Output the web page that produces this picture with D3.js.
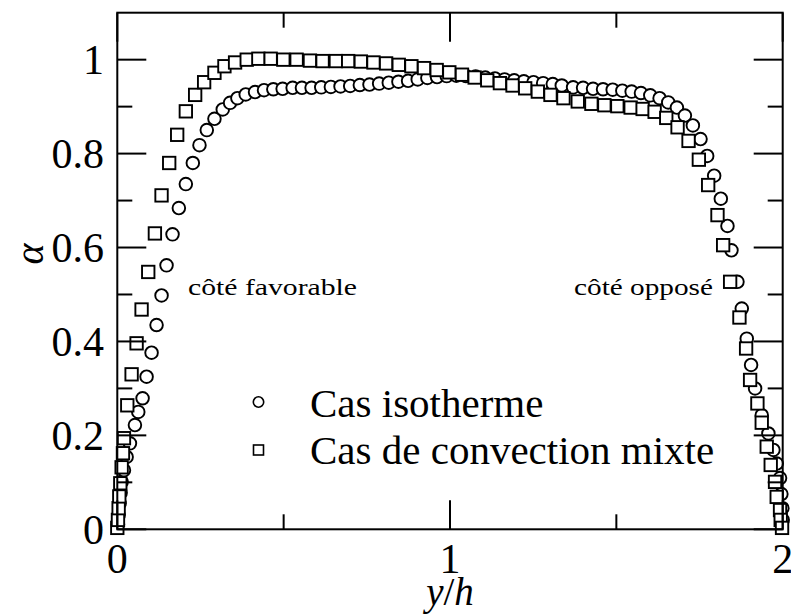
<!DOCTYPE html>
<html><head><meta charset="utf-8">
<script src="https://cdn.jsdelivr.net/npm/d3@7"></script>
<style>body{margin:0;background:#fff}svg{display:block}
text{font-family:"Liberation Serif","Times New Roman",Times,"Nimbus Roman","DejaVu Serif",serif;}</style>
</head><body>
<svg id="c" width="791" height="616"></svg>
<script>
// Cas isotherme (circles)
const isoX = [0.002,0.004,0.007,0.010,0.013,0.020,0.028,0.038,0.053,0.063,0.076,0.088,0.103,0.118,0.133,0.148,0.166,0.185,0.206,0.227,0.247,0.269,0.292,0.317,0.339,0.361,0.386,0.414,0.441,0.469,0.497,0.527,0.555,0.584,0.613,0.642,
  0.671,0.700,0.729,0.758,0.787,0.816,0.845,0.874,0.903,0.932,0.961,0.990,1.019,1.048,1.077,1.106,1.135,1.164,1.193,1.222,1.251,1.280,1.309,1.336,
  1.370,1.400,1.430,1.460,1.489,1.518,1.546,1.574,1.602,1.630,1.656,1.682,1.706,1.730,1.753,1.773,1.794,1.814,1.834,1.846,1.864,1.877,1.892,1.905,1.917,1.937,1.957,1.972,1.982,1.992,1.996,1.999,2.000];
const isoY = [0.010,0.030,0.055,0.078,0.101,0.126,0.154,0.183,0.222,0.250,0.279,0.325,0.376,0.435,0.498,0.562,0.628,0.684,0.735,0.780,0.818,0.850,0.874,0.894,0.908,0.918,0.926,0.931,0.935,0.937,0.938,0.940,0.940,0.940,0.941,0.942,
  0.943,0.944,0.946,0.947,0.949,0.951,0.953,0.955,0.958,0.961,0.963,0.965,0.966,0.965,0.964,0.962,0.960,0.958,0.956,0.954,0.952,0.950,0.948,0.945,
  0.941,0.940,0.938,0.937,0.936,0.934,0.932,0.929,0.924,0.918,0.909,0.898,0.881,0.860,0.831,0.795,0.753,0.704,0.646,0.594,0.527,0.470,0.406,0.350,0.300,0.243,0.204,0.169,0.140,0.109,0.075,0.045,0.020];
// Cas de convection mixte (squares)
const mixX = [0.000,0.002,0.004,0.006,0.009,0.013,0.017,0.020,0.030,0.043,0.058,0.073,0.093,0.113,0.133,0.156,0.180,0.206,0.234,0.261,0.292,0.322,0.354,0.389,0.424,0.461,0.499,0.539,0.579,0.617,0.657,
  0.694,0.732,0.770,0.808,0.846,0.884,0.922,0.960,0.998,1.036,1.074,1.112,1.150,1.188,1.226,1.264,1.302,1.341,
  1.384,1.425,1.464,1.503,1.543,1.579,1.615,1.650,1.684,1.717,1.748,1.776,1.804,1.821,1.842,1.870,1.890,1.902,1.924,1.937,1.952,1.964,1.977,1.982,1.992,1.994,1.998];
const mixY = [0.003,0.020,0.045,0.070,0.098,0.132,0.162,0.194,0.264,0.330,0.396,0.468,0.548,0.630,0.711,0.780,0.840,0.890,0.925,0.952,0.972,0.986,0.994,1.000,1.002,1.002,1.000,1.000,0.998,0.997,0.997,
  0.997,0.996,0.994,0.992,0.989,0.986,0.982,0.978,0.973,0.968,0.962,0.956,0.950,0.945,0.939,0.932,0.925,0.918,
  0.911,0.906,0.903,0.901,0.898,0.895,0.889,0.876,0.856,0.827,0.787,0.733,0.669,0.605,0.527,0.451,0.385,0.318,0.268,0.227,0.176,0.137,0.101,0.069,0.041,0.020,0.003];

const xMajor = [0, 1, 2];
const xMinor = [0.5, 1.5];
const xLabels = ["0", "1", "2"];
const yMajor = [0, 0.2, 0.4, 0.6, 0.8, 1];
const yMinor = [0.1, 0.3, 0.5, 0.7, 0.9];
const yLabels = ["0", "0.2", "0.4", "0.6", "0.8", "1"];
const legendLabels = ["Cas isotherme", "Cas de convection mixte"];
const notes = ["côté favorable", "côté opposé"];

const svg = d3.select("#c");
const L = 117.3, R = 782.7, T = 12.7, B = 529.3;
const x = d3.scaleLinear().domain([0, 2]).range([L, R]);
const y = d3.scaleLinear().domain([0, 1.1]).range([B, T]);

// markers
const gm = svg.append("g");
gm.selectAll("circle.iso").data(isoX.map((v,i)=>[v,isoY[i]])).enter().append("circle")
  .attr("cx", d=>x(d[0])).attr("cy", d=>y(d[1])).attr("r", 6.3)
  .attr("fill", "#fff").attr("stroke", "#000").attr("stroke-width", 1.9);
const s = 12.4;
gm.selectAll("rect.mix").data(mixX.map((v,i)=>[v,mixY[i]])).enter().append("rect")
  .attr("x", d=>x(d[0])-s/2).attr("y", d=>y(d[1])-s/2).attr("width", s).attr("height", s)
  .attr("fill", "#fff").attr("stroke", "#000").attr("stroke-width", 1.9);

// frame
const ga = svg.append("g").attr("stroke", "#000").attr("stroke-width", 2).attr("fill", "none");
ga.append("rect").attr("x", L).attr("y", T).attr("width", R-L).attr("height", B-T);
const maj = 29, min = 15;
xMajor.concat(xMinor).forEach((v,i)=>{
  const len = i < xMajor.length ? maj : min;
  ga.append("line").attr("x1", x(v)).attr("x2", x(v)).attr("y1", B).attr("y2", B-len);
  ga.append("line").attr("x1", x(v)).attr("x2", x(v)).attr("y1", T).attr("y2", T+len);
});
yMajor.concat(yMinor).forEach((v,i)=>{
  const len = i < yMajor.length ? maj : min;
  ga.append("line").attr("y1", y(v)).attr("y2", y(v)).attr("x1", L).attr("x2", L+len);
  ga.append("line").attr("y1", y(v)).attr("y2", y(v)).attr("x1", R).attr("x2", R-len);
});

// tick labels
svg.selectAll("text.yl").data(yMajor).enter().append("text")
  .attr("x", 104).attr("y", d=>y(d)).attr("dy", "0.34em").attr("text-anchor", "end")
  .style("font-size", "42px").text((d,i)=>yLabels[i]);
svg.selectAll("text.xl").data(xMajor).enter().append("text")
  .attr("x", d=>x(d)).attr("y", 573).attr("text-anchor", "middle")
  .style("font-size", "42px").text((d,i)=>xLabels[i]);

// axis titles
const xt = svg.append("text").attr("x", 450).attr("y", 605).attr("text-anchor", "middle")
  .style("font-size", "39px");
xt.append("tspan").style("font-style", "italic").text("y");
xt.append("tspan").text("/");
xt.append("tspan").style("font-style", "italic").text("h");
svg.append("text").attr("transform", "translate(31,254) rotate(-90)").attr("text-anchor", "middle")
  .attr("dy", "0.3em").style("font-style", "italic").style("font-size", "40px").text("α");

// annotations
svg.append("text").attr("x", 188).attr("y", 295).style("font-size", "23px")
  .attr("textLength", 169).attr("lengthAdjust", "spacingAndGlyphs").text(notes[0]);
svg.append("text").attr("x", 574).attr("y", 295).style("font-size", "23px")
  .attr("textLength", 139).attr("lengthAdjust", "spacingAndGlyphs").text(notes[1]);

// legend
svg.append("circle").attr("cx", 258.5).attr("cy", 402).attr("r", 5.2)
  .attr("fill", "#fff").attr("stroke", "#000").attr("stroke-width", 1.6);
svg.append("rect").attr("x", 258.5-5).attr("y", 450-5).attr("width", 10).attr("height", 10)
  .attr("fill", "#fff").attr("stroke", "#000").attr("stroke-width", 1.6);
svg.append("text").attr("x", 310).attr("y", 417).style("font-size", "41px").text(legendLabels[0]);
svg.append("text").attr("x", 310).attr("y", 464).style("font-size", "41px").text(legendLabels[1]);
</script>
</body></html>
